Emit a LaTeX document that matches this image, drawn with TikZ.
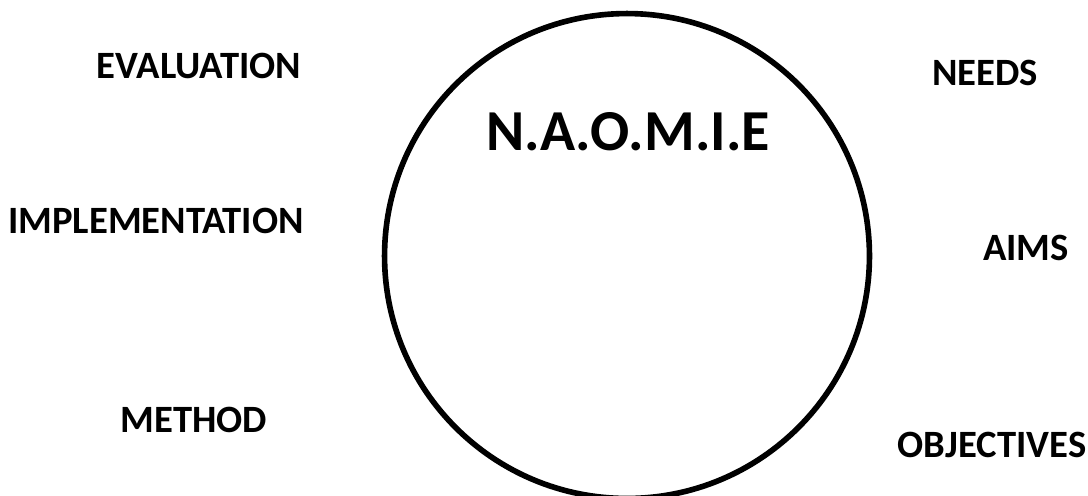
\documentclass[tikz,border=0pt]{standalone}
\usepackage{fontspec}
\setmainfont{Carlito}
\usepackage{xcolor}
\definecolor{naomieInk}{HTML}{000000}
\usetikzlibrary{positioning}
\tikzset{
  %% ── Ring ─────────────────────────────────────────────────────────────
  anneau/.style   = {circle, draw=naomieInk, line width=3.2pt,
                     minimum size=9.7cm, inner sep=0pt},
  %%
  %% ── Text ─────────────────────────────────────────────────────────────
  etape/.style    = {font=\fontsize{22}{26}\selectfont\bfseries,
                     text=naomieInk, anchor=base, inner sep=0pt},
  titreAnneau/.style = {font=\fontsize{33}{38}\selectfont\bfseries,
                     text=naomieInk, anchor=base, inner sep=0pt},
}
\begin{document}
\begin{tikzpicture}[x=0.02cm, y=-0.02cm]
\useasboundingbox (0,0) rectangle (1088,495);

\node[anneau] (ring) at (627, 256) {};
\node[titreAnneau] (titre) at (628, 150) {N.A.O.M.I.E};

\node[etape] (evaluation) at (199, 78) {EVALUATION};
\node[etape] (implementation) at (156, 233) {IMPLEMENTATION};
\node[etape] (method) at (194, 432) {METHOD};

\node[etape] (needs) at (985, 85) {NEEDS};
\node[etape] (aims) at (1026, 260) {AIMS};
\node[etape] (objectives) at (992, 457) {OBJECTIVES};

\end{tikzpicture}
\end{document}
